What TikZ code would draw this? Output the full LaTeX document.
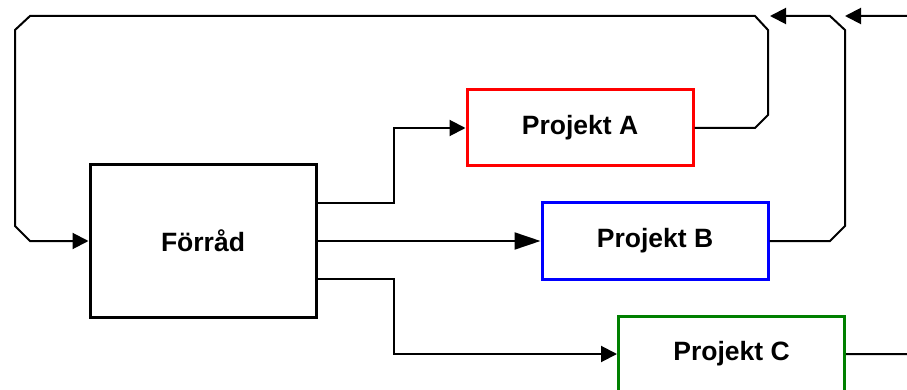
\documentclass[tikz,border=0pt]{standalone}
\usepackage{fontspec}
\setmainfont{Liberation Sans}
\usepackage{xcolor}
\usepackage{tikz}
\usetikzlibrary{arrows.meta}
\usetikzlibrary{calc}
\usetikzlibrary{positioning}

\definecolor{projgreen}{RGB}{0,128,0}

\begin{document}
\begin{tikzpicture}[x=1pt, y=1pt, >={Triangle[length=16pt,width=16pt]}, line width=2pt, font=\fontsize{26.5}{32}\selectfont\bfseries]
	\tikzstyle{proj}=[draw, line width=3pt, minimum width=226pt, minimum height=76pt, inner sep=0pt]
	\useasboundingbox (0,0) rectangle (907,-390);

	\node[proj, minimum height=152pt] (forrad) at (203,-241) {Förråd};
	\node[proj, draw=red] (projA) at (580,-128) {Projekt A};
	\node[proj, draw=blue, right=223pt of forrad] (projB) {Projekt B};
	\node[proj, draw=projgreen] (projC) at (731.5,-354) {Projekt C};

	\coordinate (mergeA) at (770,-16);
	\coordinate (mergeB) at (845,-16);

	% ut fran forradet
	\draw[->] ([yshift=38pt]forrad.east) -- ++(76,0) |- (projA.west);
	\draw[-{Triangle[length=26pt,width=17pt]}] (forrad.east) -- (projB.west);
	\draw[->] ([yshift=-38pt]forrad.east) -- ++(76,0) |- (projC.west);

	% tillbaka
	\draw[->] (projA.east) -- (755,-128) -- (768,-115) -- (768,-30) -- (755,-16)
		-- (30,-16) -- (15,-30) -- (15,-226) -- (30,-241) -- (forrad.west);
	\draw[->] (projB.east) -- (830,-241) -- (845,-226) -- (845,-30) -- (830,-16) -- (mergeA);
	\draw[->] (projC.east) -- (925,-354) -- (925,-30) -- (911,-16) -- (mergeB);
\end{tikzpicture}
\end{document}
